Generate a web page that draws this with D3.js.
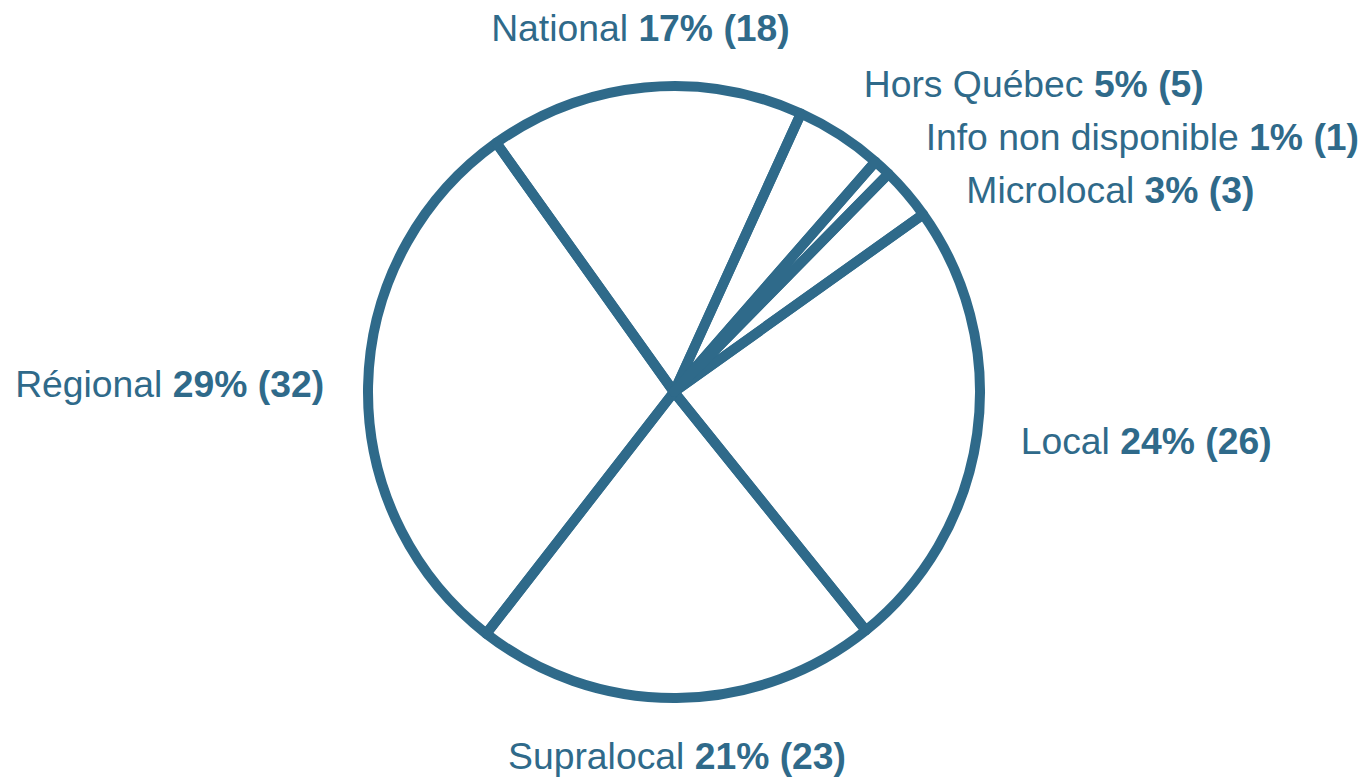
<!DOCTYPE html>
<html>
<head>
<meta charset="utf-8">
<script src="https://cdn.jsdelivr.net/npm/d3@7"></script>
<style>
  html, body { margin: 0; padding: 0; background: #ffffff; }
  svg { display: block; }
</style>
</head>
<body>
<svg id="chart" width="1362" height="778"></svg>
<script>
const categories = ["Microlocal", "Local", "Supralocal", "Régional", "National", "Hors Québec", "Info non disponible"];
const counts = [3, 26, 23, 32, 18, 5, 1];
const percentLabels = ["3%", "24%", "21%", "29%", "17%", "5%", "1%"];

const W = 1362, H = 778;
const cx = 674, cy = 392, r = 306;
const color = "#2f6a8a";
const fontSize = 37.3;
const labelRx = 350, labelRy = 365, minGap = 53;
const startDeg = 44.5;

const svg = d3.select("#chart");
const data = categories.map((c, i) => ({ name: c, value: counts[i], pct: percentLabels[i] }));

const pie = d3.pie()
  .value(d => d.value)
  .sort(null)
  .startAngle(startDeg * Math.PI / 180)
  .endAngle(startDeg * Math.PI / 180 + 2 * Math.PI);

const arcs = pie(data);
const arc = d3.arc().innerRadius(0).outerRadius(r);

const g = svg.append("g").attr("transform", `translate(${cx},${cy})`);
g.selectAll("path.slice")
  .data(arcs)
  .join("path")
  .attr("class", "slice")
  .attr("d", arc)
  .attr("fill", "none")
  .attr("stroke", color)
  .attr("stroke-width", 10)
  .attr("stroke-linejoin", "round");

// label layout
const labels = arcs.map(a => {
  const mid = (a.startAngle + a.endAngle) / 2;
  const s = Math.sin(mid), c = Math.cos(mid);
  let anchor = Math.abs(s) < 0.3 ? "middle" : (s > 0 ? "start" : "end");
  return {
    d: a.data, mid, s, c, anchor,
    x: cx + labelRx * s,
    y: cy - labelRy * c
  };
});

// resolve overlaps on right side (push down), recompute x along ellipse
const right = labels.filter(l => l.anchor === "start").sort((a, b) => a.y - b.y);
for (let i = 1; i < right.length; i++) {
  if (right[i].y < right[i - 1].y + minGap) {
    right[i].y = right[i - 1].y + minGap;
    const t = Math.max(-1, Math.min(1, (cy - right[i].y) / labelRy));
    right[i].x = cx + labelRx * Math.sqrt(1 - t * t);
  }
}

const txt = svg.append("g")
  .attr("font-family", "'Liberation Sans', Arial, sans-serif")
  .attr("font-size", fontSize)
  .attr("fill", color)
  .selectAll("text")
  .data(labels)
  .join("text")
  .attr("x", d => d.x)
  .attr("y", d => d.y)
  .attr("dy", "0.32em")
  .attr("text-anchor", d => d.anchor);

txt.append("tspan").text(d => d.d.name + " ");
txt.append("tspan").attr("font-weight", "bold").text(d => `${d.d.pct} (${d.d.value})`);
</script>
</body>
</html>
